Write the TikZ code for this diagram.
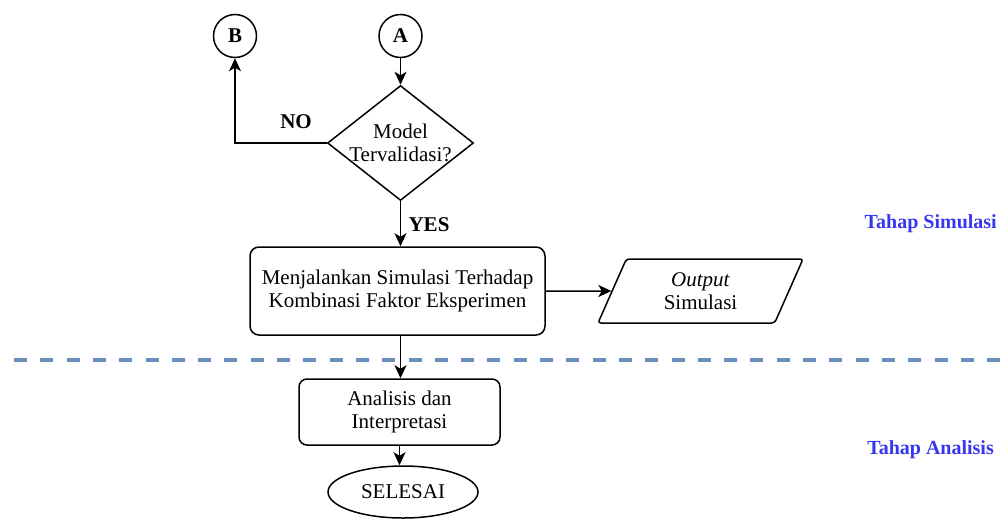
\documentclass[tikz,border=0pt]{standalone}
\usepackage{fontspec}
\setmainfont{Liberation Serif}
\usetikzlibrary{shapes.geometric,arrows.meta}
\definecolor{lane}{RGB}{108,142,191}
\definecolor{phaseblue}{RGB}{55,55,240}
\begin{document}
\begin{tikzpicture}[x=1pt,y=-1pt,
  every node/.style={font=\fontsize{21}{23.5}\selectfont, inner sep=0pt},
  flow/.style={draw, line width=1.5pt},
  proc/.style={flow, rectangle, rounded corners=9pt, align=center},
  conn/.style={flow, circle, minimum size=43pt, font=\fontsize{21}{23.5}\selectfont\bfseries},
  decision/.style={flow, diamond, minimum width=146pt, minimum height=115pt, inner sep=-12pt, align=center},
  io/.style={flow, trapezium, trapezium left angle=53, trapezium right angle=127,
    trapezium stretches body=true, minimum width=205pt, minimum height=64pt,
    rounded corners=3pt, align=center},
  term/.style={flow, ellipse, minimum width=150pt, minimum height=52pt},
  arrow/.style={line width=1.5pt, -{Stealth[length=13pt,width=12pt,inset=3.5pt]}},
  tag/.style={font=\fontsize{21}{23.5}\selectfont\bfseries},
  phase/.style={text=phaseblue, font=\fontsize{20}{22}\selectfont\bfseries, anchor=east},
  sep/.style={draw=lane, line width=4pt, dash pattern=on 13pt off 13.3pt}
]
\useasboundingbox (0,0) rectangle (1000,525);

% phase separator
\draw[sep] (14,360) -- (1000,360);

% flowchart nodes
\node[conn] (B) at (235,36) {B};
\node[conn] (A) at (400.5,36) {A};
\node[decision] (dec) at (400.5,143) {Model\\Tervalidasi?};
\node[proc, minimum width=295pt, minimum height=88pt] (sim) at (397.5,291)
  {Menjalankan Simulasi Terhadap\\Kombinasi Faktor Eksperimen};
\node[io] (out) at (700.5,291) {\textit{Output}\\Simulasi};
\node[proc, minimum width=201pt, minimum height=66pt, rounded corners=8pt] (ana) at (399.5,412)
  {Analisis dan\\Interpretasi};
\node[term] (stop) at (403,492) {SELESAI};

% branch labels
\node[tag] (no) at (296,122) {NO};
\node[tag] (yes) at (429,225) {YES};

% phase labels
\node[phase] (ps) at (997,224) {Tahap Simulasi};
\node[phase] (pa) at (994,450) {Tahap Analisis};

% connectors
\draw[arrow] (A) -- (dec);
\draw[arrow] (dec.west) -| (B.south);
\draw[arrow] (dec.south) -- (dec.south |- sim.north);
\draw[arrow] (sim.east) -- (out.west);
\draw[arrow] (dec.south |- sim.south) -- (dec.south |- ana.north);
\draw[arrow] (ana.south) -- (ana.south |- stop.north);
\end{tikzpicture}
\end{document}
